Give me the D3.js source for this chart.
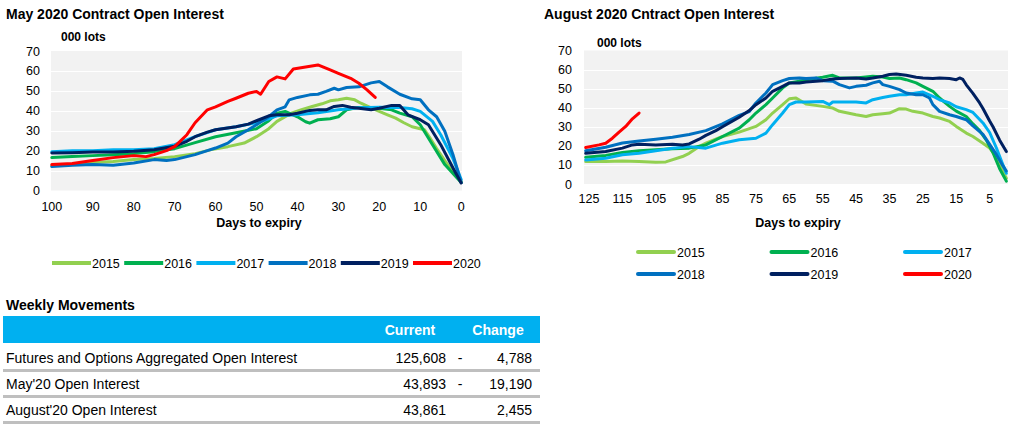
<!DOCTYPE html>
<html><head><meta charset="utf-8">
<script src="https://cdn.jsdelivr.net/npm/d3@7"></script>
<style>
html,body{margin:0;padding:0;background:#fff;}
svg text{font-family:"Liberation Sans",Arial,sans-serif;}
</style></head>
<body><svg id="c" width="1023" height="445"></svg>
<script>
// ---------- DATA ----------
const years = ["2015","2016","2017","2018","2019","2020"];
const colors = ["#92D050","#00B050","#00B0F0","#0070C0","#002060","#FF0000"];
const yTicks = [0,10,20,30,40,50,60,70];
const mayXTicks = [100,90,80,70,60,50,40,30,20,10,0];
const augXTicks = [125,115,105,95,85,75,65,55,45,35,25,15,5];

// May 2020 contract: [days to expiry, 000 lots]
const may2015 = [[100,12.5],[95,13],[90,14],[85,14.5],[80,15.5],[75,16],[70,17],[65,18.5],[61,20.5],[57,22],[53,23.8],[50,27],[47,31],[45,34.7],[41.5,38.8],[39,40.5],[36.6,42],[34,43.5],[32,45],[30,45.5],[28,46.3],[26,45.5],[24.5,43.8],[22,41.5],[20,39.7],[18,38],[16,36.3],[14,34],[12,32],[9,30.5],[7.5,26],[6,21],[4,15],[2.6,11],[0,4.5]];
const may2016 = [[100,16.5],[95,17],[90,17.5],[85,18],[80,18.5],[75,19.5],[70,21],[65,24],[60,27],[55,29],[50,31],[47,35],[45,38.8],[43,39.7],[40,37],[38,34.5],[37,33.8],[35,35.5],[32,36],[30,37],[28,40.5],[25,41.7],[20,41.3],[17,40.5],[15,38.8],[12,37],[10,33],[7,23],[4,13],[0,4]];
const may2017 = [[100,19.5],[95,20],[90,20],[85,20.5],[80,20.5],[75,21],[70,23],[65,27],[60,30.5],[55,32],[50,34],[47,36],[45,37.5],[40,38],[35,39],[30,40.5],[25,41.5],[20,41.8],[15,41.7],[12,41],[10,39.7],[7,34.7],[5,28],[2,16],[0,5.5]];
const may2018 = [[100,12],[95,12.7],[90,13],[85,12.7],[80,13.8],[75,15.5],[72,15],[70,15.5],[67,17],[65,18],[62,20],[60,21.3],[57,23.8],[55,27],[52,30.5],[50,33],[47,37],[45,40.5],[43,42],[42,45.5],[40,46.7],[37,48],[35,48.3],[33,49.7],[31,51.3],[30,50.5],[28,51.7],[25,52],[22,54],[20,54.7],[18,52],[15,48.3],[12,46],[10,45.5],[8,40.5],[6,37],[4,29.7],[2,18],[0,4]];
const may2019 = [[100,18.8],[95,19],[90,19.3],[85,19.3],[80,19.7],[75,20.5],[70,22.2],[67,24.7],[65,27],[62,29.3],[60,30.5],[55,32],[52,33.3],[50,35],[47,37.5],[45,38],[42,38],[40,38.8],[37,40.2],[35,40.5],[33,40.5],[31,42.2],[29,42.7],[27,41.8],[25,41.3],[22,40.5],[20,41.3],[17,42.7],[15,42.7],[13,38],[10,35.5],[8,33],[5,23],[2,11.3],[0,3.8]];
const may2020 = [[100,13],[95,13.5],[90,15],[85,16.5],[80,17.5],[77,17],[75,18],[72,20],[70,22],[67,28],[65,34],[62,40.5],[60,42],[57,44.7],[55,46.3],[52,48.8],[50,49.7],[49,48.3],[47,54.7],[45,57],[43,56],[41,61],[38,62],[35,63],[32,60.5],[30,58.8],[27,56.3],[25,53.8],[23,50.5],[21,46.7]];

// August 2020 contract
const aug2015 = [[126,11.8],[120,11.8],[115,12.1],[110,11.8],[105,11.4],[102,11.6],[97,14.4],[95,16.1],[92,19.6],[90,21.4],[85,24.9],[80,27.2],[75,30.2],[72,33.7],[70,37.2],[67,41.6],[65,44.7],[63,45.1],[60,41.9],[55,40.7],[52,39.8],[50,38.1],[45,36.3],[42,35.4],[40,36.3],[37,36.8],[35,37.2],[32,39.5],[30,39.3],[28,38.1],[25,37.2],[22,35.4],[20,34.6],[17,32.8],[15,30.2],[12,26.7],[10,24.9],[7,21.4],[5,18.8],[3,14.4],[1,6.5],[0,3]];
const aug2016 = [[126,14],[120,15],[115,16.5],[110,17.5],[105,18],[100,18.5],[95,18.8],[90,20.5],[85,24.9],[80,29.3],[77,33.7],[75,37.2],[72,41.6],[70,45.1],[67,50.4],[65,53],[62,53.9],[60,54.7],[55,56],[52,57],[50,55.6],[45,55.6],[40,56.5],[37,56.1],[35,55.3],[32,55.6],[30,54.7],[27,53],[25,51.2],[22,48.6],[20,45.1],[17,40.7],[15,38.2],[12,35.4],[10,31.5],[8,28],[6,23],[4,16.4],[2,8],[0,1.5]];
const aug2017 = [[126,12.6],[120,13.5],[115,15.3],[110,16.1],[105,17.4],[100,18.8],[95,19.6],[90,18.8],[85,21.4],[80,23.2],[75,24],[72,26.7],[70,31.1],[67,37.2],[65,41.6],[63,43],[60,43],[55,43.3],[53,41.6],[52,43],[50,43],[45,43],[42,42.5],[40,44.2],[37,45.4],[35,46],[32,46.8],[30,46.8],[27,47.7],[25,48.2],[22,46],[20,44.2],[17,42.5],[15,40.5],[12,39],[10,37.5],[7,32],[5,27],[3,19],[1,10],[0,5.6]];
const aug2018 = [[126,17.4],[120,19.3],[115,21.5],[110,22.5],[105,23.5],[100,24.5],[95,26],[90,28],[85,31.5],[80,36],[77,38],[75,42.5],[72,47.7],[70,52.1],[67,54.2],[65,55.3],[62,55.6],[60,55.3],[57,55.6],[55,54.2],[52,53.9],[50,52.1],[47,50.4],[45,51.2],[42,51.8],[40,53],[38,53.9],[37,52.1],[35,51.2],[32,49.5],[30,47.7],[27,46.8],[25,46.8],[23,45.1],[22,41.6],[20,38.1],[17,36.3],[15,35.4],[12,33.7],[10,30.5],[7,26],[6,23.4],[3,15.5],[1,9.5],[0,6.8]];
const aug2019 = [[126,16.1],[120,17],[115,18.8],[112,20.5],[110,20.9],[105,20.4],[100,20.9],[97,20.5],[95,21],[92,23.5],[90,25.5],[87,28],[85,30],[80,35],[77,38.5],[75,41.6],[72,45.1],[70,48.6],[67,51.2],[65,53],[62,53],[60,53.5],[55,54.2],[52,55.1],[50,55.3],[45,55.6],[42,55.1],[40,55.6],[37,56.5],[35,57.4],[33,57.7],[30,57],[27,56],[25,55.6],[22,55.3],[20,55.6],[17,55.3],[15,54.7],[14,55.6],[13,54.8],[12,52],[10,47.5],[8,42.5],[7,39.6],[5,33],[4,30],[2,23],[0,17]];
const aug2020 = [[126,19.1],[122,20.5],[120,21.4],[118,24],[116,27.2],[114,30.2],[112,34.2],[110,37.2]];

const maySeries = [may2015,may2016,may2017,may2018,may2019,may2020];
const augSeries = [aug2015,aug2016,aug2017,aug2018,aug2019,aug2020];

// table
const tableHeaders = ["Current","Change"];
const tableRows = ["Futures and Options Aggregated Open Interest","May'20 Open Interest","August'20 Open Interest"];
const tableCurrent = ["125,608","43,893","43,861"];
const tableSign = ["-","-",""];
const tableChange = ["4,788","19,190","2,455"];

// ---------- DRAW ----------
const svg = d3.select("#c");

function chart(o){
  const g = svg.append("g");
  const x = d3.scaleLinear().domain(o.xDomain).range([o.left,o.right]);
  const y = d3.scaleLinear().domain([0,70]).range([o.bottom,o.top]);
  g.append("rect").attr("x",o.left).attr("y",o.top).attr("width",o.right-o.left).attr("height",o.bottom-o.top).attr("fill","#F2F2F2");
  g.selectAll("line.grid").data(yTicks.filter(d=>d>0&&d<70)).enter().append("line")
    .attr("x1",o.left).attr("x2",o.right).attr("y1",d=>Math.round(y(d))+0.5).attr("y2",d=>Math.round(y(d))+0.5)
    .attr("stroke","#fff").attr("stroke-width",1);
  g.selectAll("text.yt").data(yTicks).enter().append("text")
    .attr("x",o.yLabelX).attr("y",d=>y(d)+4.5).attr("text-anchor","end")
    .attr("font-size",12.5).attr("fill","#000").text(d=>d);
  g.selectAll("text.xt").data(o.xTicks).enter().append("text")
    .attr("x",d=>x(d)).attr("y",o.xLabelY).attr("text-anchor","middle")
    .attr("font-size",12.5).attr("fill","#000").text(d=>d);
  g.append("text").attr("x",o.xTitleX).attr("y",o.xTitleY).attr("text-anchor","middle")
    .attr("font-size",12.5).attr("font-weight","bold").text("Days to expiry");
  g.append("text").attr("x",o.titleX).attr("y",19).attr("font-size",14).attr("font-weight","bold").text(o.title);
  g.append("text").attr("x",o.unitX).attr("y",o.unitY).attr("font-size",12).attr("font-weight","bold").text("000 lots");
  const line = d3.line().x(d=>x(d[0])).y(d=>y(d[1]));
  o.series.forEach((s,i)=>{
    g.append("path").attr("d",line(s)).attr("fill","none").attr("stroke",colors[i])
      .attr("stroke-width",3).attr("stroke-linejoin","round").attr("stroke-linecap","round");
  });
}

chart({title:"May 2020 Contract Open Interest", titleX:6, unitX:61, unitY:41,
  xDomain:[100.2,-0.2], left:51, right:462, top:51, bottom:190.5,
  yLabelX:40, xTicks:mayXTicks, xLabelY:211, xTitleX:259, xTitleY:227, series:maySeries});
chart({title:"August 2020 Cntract Open Interest", titleX:544, unitX:597, unitY:47,
  xDomain:[126.5,-0.5], left:584, right:1008, top:50.5, bottom:184,
  yLabelX:572, xTicks:augXTicks, xLabelY:203, xTitleX:798, xTitleY:227, series:augSeries});

// legends
const lg1 = svg.append("g");
years.forEach((yr,i)=>{
  const x0 = 52 + i*72.2;
  lg1.append("line").attr("x1",x0).attr("x2",x0+39).attr("y1",263).attr("y2",263).attr("stroke",colors[i]).attr("stroke-width",4);
  lg1.append("text").attr("x",x0+40).attr("y",267.5).attr("font-size",12.5).text(yr);
});
const lg2 = svg.append("g");
years.forEach((yr,i)=>{
  const col = i%3, row = Math.floor(i/3);
  const x0 = 638 + col*133.5, yy = 252 + row*22;
  lg2.append("line").attr("x1",x0).attr("x2",x0+36).attr("y1",yy).attr("y2",yy).attr("stroke",colors[i]).attr("stroke-width",4).attr("stroke-linecap","round");
  lg2.append("text").attr("x",x0+39).attr("y",yy+4.5).attr("font-size",12.5).text(yr);
});

// table
const tb = svg.append("g");
tb.append("text").attr("x",6).attr("y",310).attr("font-size",14).attr("font-weight","bold").text("Weekly Movements");
tb.append("rect").attr("x",3).attr("y",316).attr("width",537).attr("height",27).attr("fill","#00B0F0");
tb.append("text").attr("x",410).attr("y",335).attr("text-anchor","middle").attr("font-size",14).attr("font-weight","bold").attr("fill","#fff").text(tableHeaders[0]);
tb.append("text").attr("x",498).attr("y",335).attr("text-anchor","middle").attr("font-size",14).attr("font-weight","bold").attr("fill","#fff").text(tableHeaders[1]);
tableRows.forEach((r,i)=>{
  const by = 363 + i*26;
  tb.append("text").attr("x",6).attr("y",by).attr("font-size",14).text(r);
  tb.append("text").attr("x",446).attr("y",by).attr("text-anchor","end").attr("font-size",14).text(tableCurrent[i]);
  tb.append("text").attr("x",460).attr("y",by).attr("text-anchor","middle").attr("font-size",14).text(tableSign[i]);
  tb.append("text").attr("x",532).attr("y",by).attr("text-anchor","end").attr("font-size",14).text(tableChange[i]);
  tb.append("rect").attr("x",3).attr("y",369+i*26).attr("width",537).attr("height",3).attr("fill","#BFBFBF");
});
</script></body></html>
